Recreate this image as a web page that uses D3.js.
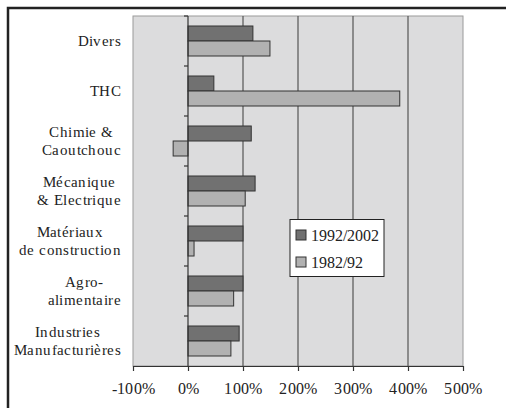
<!DOCTYPE html>
<html><head><meta charset="utf-8">
<script src="https://cdn.jsdelivr.net/npm/d3@7"></script>
<style>
@font-face { font-family: "SerifL"; src: local("Liberation Serif"), local("LiberationSerif"), local("Liberation Serif Regular"), local("Times New Roman"); }
body{margin:0;background:#fff}
svg{display:block}
svg text{font-family:"SerifL","Liberation Serif","Times New Roman",Tinos,serif;}
</style>
</head><body>
<svg id="c" width="506" height="408"></svg>
<script>
const categories = [
  ["Divers"],
  ["THC"],
  ["Chimie &", "Caoutchouc"],
  ["Mécanique", "& Electrique"],
  ["Matériaux", "de construction"],
  ["Agro-", "alimentaire"],
  ["Industries", "Manufacturières"]
];
const series = ["1992/2002", "1982/92"];
const values1992 = [118, 47, 115, 122, 100, 100, 93];
const values1982 = [149, 385, -27, 104, 11, 83, 78];
const xTicks = [-100, 0, 100, 200, 300, 400, 500];
const colors = ["#717171", "#b1b1b1"];

function draw() {
  const svg = d3.select("#c");
  svg.selectAll("*").remove();

  // frame
  svg.append("rect").attr("x", 8).attr("y", 8).attr("width", 600).attr("height", 500)
    .attr("fill", "none").attr("stroke", "#222").attr("stroke-width", 2.5);

  const x = d3.scaleLinear().domain([-100, 500]).range([133, 463]);
  const yb = d3.scaleBand().domain(d3.range(categories.length)).range([16, 366]);

  // plot background
  svg.append("rect").attr("x", x(-100)).attr("y", 16).attr("width", x(500) - x(-100)).attr("height", 350)
    .attr("fill", "#dcdcdd").attr("stroke", "#9a9a9a").attr("stroke-width", 1);

  // gridlines
  svg.append("g").selectAll("line").data([100, 200, 300, 400]).join("line")
    .attr("x1", d => x(d)).attr("x2", d => x(d)).attr("y1", 16).attr("y2", 366)
    .attr("stroke", "#555").attr("stroke-width", 1.2);

  // bars
  const bw = 15;
  const g = svg.append("g");
  categories.forEach((c, i) => {
    const cy = yb(i) + yb.bandwidth() / 2;
    [values1992[i], values1982[i]].forEach((v, k) => {
      g.append("rect")
        .attr("x", x(Math.min(0, v)))
        .attr("y", cy - bw + k * bw)
        .attr("width", Math.abs(x(v) - x(0)))
        .attr("height", bw)
        .attr("fill", colors[k]).attr("stroke", "#333").attr("stroke-width", 1);
    });
  });

  // y axis line at 0 with category ticks
  svg.append("line").attr("x1", x(0)).attr("x2", x(0)).attr("y1", 16).attr("y2", 366)
    .attr("stroke", "#333").attr("stroke-width", 1.2);
  svg.append("g").selectAll("line").data(d3.range(categories.length)).join("line")
    .attr("x1", x(0) - 4).attr("x2", x(0)).attr("y1", d => yb(d)).attr("y2", d => yb(d))
    .attr("stroke", "#333").attr("stroke-width", 1.2);

  // x axis
  const xa = svg.append("g").attr("transform", "translate(0,366)")
    .call(d3.axisBottom(x).tickValues(xTicks).tickSize(5).tickSizeOuter(0).tickFormat(d => d + "%"));
  xa.attr("font-family", null).attr("font-size", null);
  xa.select(".domain").attr("stroke", "#333").attr("stroke-width", 1.2);
  xa.selectAll(".tick line").attr("stroke", "#333").attr("stroke-width", 1.2);
  xa.selectAll(".tick text")
    .attr("y", 28).attr("dy", 0)
    .style("font-size", "16px")
    .attr("fill", "#222").attr("letter-spacing", 0.3);

  // category labels
  const lg = svg.append("g");
  categories.forEach((lines, i) => {
    const cy = yb(i) + yb.bandwidth() / 2;
    const texts = lines.map((t, j) => lg.append("text").text(t)
      .style("font-size", "15px").attr("fill", "#222")
      .attr("y", cy + (j - (lines.length - 1) / 2) * 18 + 5)
      .attr("text-anchor", "middle").attr("letter-spacing", 0.4));
    const maxW = d3.max(texts, t => t.node().getComputedTextLength());
    texts.forEach(t => t.attr("x", 121 - maxW / 2));
  });

  // legend
  const leg = svg.append("g");
  leg.append("rect").attr("x", 290).attr("y", 219.5).attr("width", 94).attr("height", 57)
    .attr("fill", "#fff").attr("stroke", "#222").attr("stroke-width", 1);
  series.forEach((s, k) => {
    const cy = 235 + k * 27;
    leg.append("rect").attr("x", 296).attr("y", cy - 5).attr("width", 10).attr("height", 10)
      .attr("fill", colors[k]).attr("stroke", "#333").attr("stroke-width", 1);
    leg.append("text").text(s).attr("x", 311).attr("y", cy + 5.5)
      .style("font-size", "16px").attr("fill", "#222");
  });
}

draw();
if (document.fonts && document.fonts.load) {
  document.fonts.load("15px SerifL").then(draw, () => {});
  document.fonts.ready.then(draw);
}
</script>
</body></html>
